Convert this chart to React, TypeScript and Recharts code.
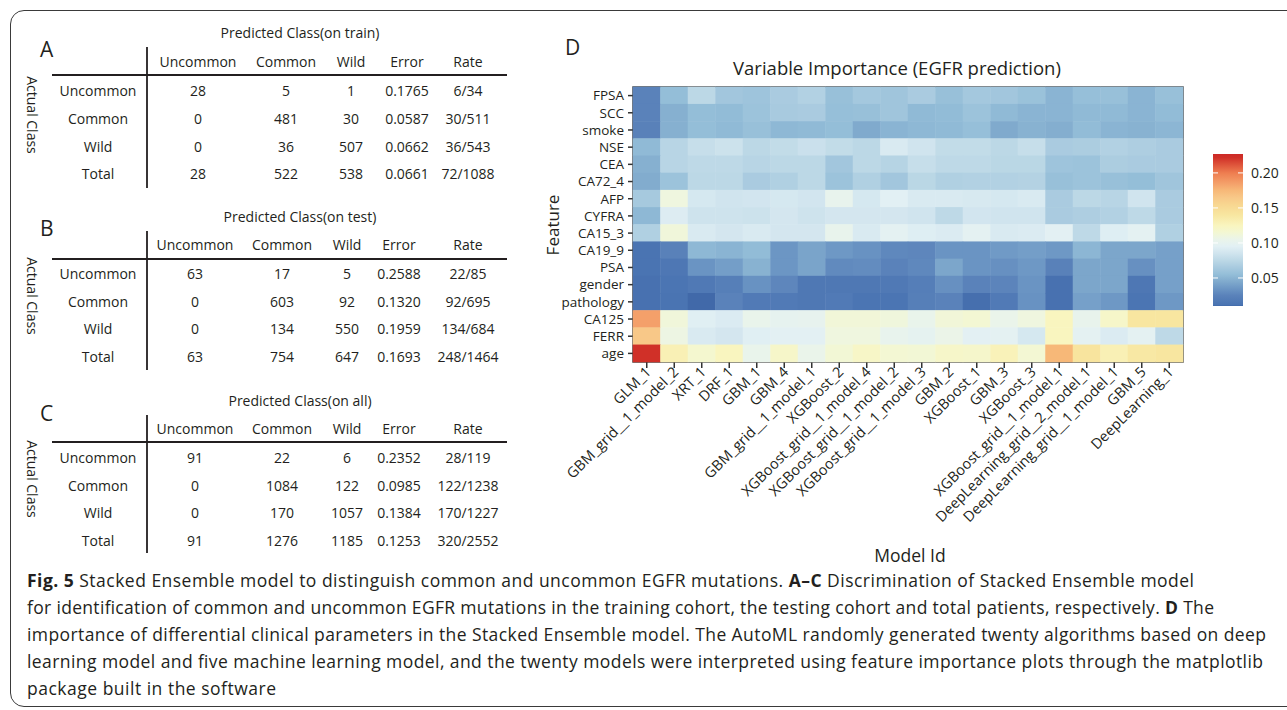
import React from "react";
import {
  ScatterChart,
  Scatter,
  XAxis,
  YAxis,
  ReferenceArea,
  BarChart,
  Bar,
} from "recharts";

// ---- heatmap data (panel D) ----
const MODELS = [
  "GLM_1",
  "GBM_grid__1_model_2",
  "XRT_1",
  "DRF_1",
  "GBM_1",
  "GBM_4",
  "GBM_grid__1_model_1",
  "XGBoost_2",
  "XGBoost_grid__1_model_4",
  "XGBoost_grid__1_model_2",
  "XGBoost_grid__1_model_3",
  "GBM_2",
  "XGBoost_1",
  "GBM_3",
  "XGBoost_3",
  "XGBoost_grid__1_model_1",
  "DeepLearning_grid__2_model_1",
  "DeepLearning_grid__1_model_1",
  "GBM_5",
  "DeepLearning_1",
];

const FEATURES = [
  "FPSA", "SCC", "smoke", "NSE", "CEA", "CA72_4", "AFP", "CYFRA",
  "CA15_3", "CA19_9", "PSA", "gender", "pathology", "CA125", "FERR", "age",
];

const FPSA = [0.025, 0.055, 0.075, 0.062, 0.06, 0.066, 0.07, 0.057, 0.063, 0.061, 0.066, 0.057, 0.063, 0.062, 0.058, 0.05, 0.056, 0.057, 0.05, 0.057];
const SCC = [0.025, 0.048, 0.055, 0.054, 0.059, 0.065, 0.066, 0.056, 0.057, 0.061, 0.053, 0.054, 0.059, 0.053, 0.05, 0.05, 0.053, 0.053, 0.05, 0.054];
const SMOKE = [0.024, 0.048, 0.055, 0.053, 0.057, 0.052, 0.053, 0.055, 0.045, 0.05, 0.052, 0.053, 0.056, 0.045, 0.049, 0.047, 0.054, 0.05, 0.049, 0.051];
const NSE = [0.053, 0.073, 0.08, 0.083, 0.075, 0.078, 0.082, 0.078, 0.075, 0.09, 0.085, 0.078, 0.078, 0.075, 0.08, 0.066, 0.067, 0.07, 0.068, 0.066];
const CEA = [0.048, 0.073, 0.076, 0.076, 0.073, 0.075, 0.075, 0.062, 0.075, 0.072, 0.08, 0.076, 0.076, 0.074, 0.074, 0.06, 0.059, 0.067, 0.066, 0.066];
const CA72_4 = [0.046, 0.059, 0.075, 0.075, 0.066, 0.069, 0.075, 0.059, 0.069, 0.062, 0.074, 0.069, 0.07, 0.07, 0.071, 0.057, 0.059, 0.057, 0.055, 0.061];
const AFP = [0.064, 0.11, 0.088, 0.085, 0.086, 0.088, 0.086, 0.102, 0.088, 0.095, 0.09, 0.09, 0.089, 0.088, 0.09, 0.066, 0.075, 0.073, 0.085, 0.066];
const CYFRA = [0.052, 0.092, 0.084, 0.084, 0.083, 0.087, 0.084, 0.087, 0.087, 0.087, 0.085, 0.076, 0.086, 0.085, 0.085, 0.066, 0.068, 0.07, 0.076, 0.066];
const CA15_3 = [0.069, 0.112, 0.09, 0.087, 0.09, 0.087, 0.087, 0.103, 0.09, 0.097, 0.093, 0.091, 0.097, 0.09, 0.091, 0.096, 0.076, 0.093, 0.097, 0.069];
const CA19_9 = [0.012, 0.024, 0.052, 0.05, 0.054, 0.035, 0.042, 0.036, 0.033, 0.028, 0.027, 0.034, 0.034, 0.037, 0.039, 0.036, 0.051, 0.043, 0.043, 0.04];
const PSA = [0.012, 0.015, 0.034, 0.039, 0.049, 0.035, 0.042, 0.029, 0.03, 0.025, 0.028, 0.043, 0.034, 0.032, 0.036, 0.024, 0.043, 0.043, 0.032, 0.04];
const GENDER = [0.011, 0.013, 0.017, 0.022, 0.033, 0.027, 0.016, 0.016, 0.016, 0.017, 0.021, 0.032, 0.025, 0.026, 0.034, 0.011, 0.043, 0.043, 0.015, 0.04];
const PATHOLOGY = [0.011, 0.012, 0.008, 0.025, 0.018, 0.018, 0.016, 0.018, 0.013, 0.013, 0.022, 0.025, 0.01, 0.018, 0.033, 0.011, 0.04, 0.036, 0.013, 0.036];
const CA125 = [0.185, 0.112, 0.094, 0.091, 0.104, 0.1, 0.101, 0.113, 0.113, 0.111, 0.104, 0.113, 0.115, 0.105, 0.11, 0.125, 0.103, 0.12, 0.14, 0.14];
const FERR = [0.165, 0.108, 0.09, 0.087, 0.094, 0.096, 0.096, 0.11, 0.11, 0.102, 0.099, 0.106, 0.096, 0.097, 0.088, 0.125, 0.097, 0.091, 0.097, 0.076];
const AGE = [0.222, 0.13, 0.117, 0.125, 0.104, 0.12, 0.105, 0.114, 0.121, 0.115, 0.114, 0.12, 0.119, 0.128, 0.115, 0.175, 0.142, 0.13, 0.138, 0.14];

const IMPORTANCE = [
  FPSA, SCC, SMOKE, NSE, CEA, CA72_4, AFP, CYFRA,
  CA15_3, CA19_9, PSA, GENDER, PATHOLOGY, CA125, FERR, AGE,
];

const SCALE_MIN = 0.01;
const SCALE_MAX = 0.227;
const COLORBAR_TICKS = [0.05, 0.1, 0.15, 0.2];

// ---- confusion tables (panels A-C) ----
const CLASS_COLUMNS = ["Uncommon", "Common", "Wild", "Error", "Rate"];
const CLASS_ROWS = ["Uncommon", "Common", "Wild", "Total"];

const TRAIN_VALUES = [
  ["28", "5", "1", "0.1765", "6/34"],
  ["0", "481", "30", "0.0587", "30/511"],
  ["0", "36", "507", "0.0662", "36/543"],
  ["28", "522", "538", "0.0661", "72/1088"],
];
const TEST_VALUES = [
  ["63", "17", "5", "0.2588", "22/85"],
  ["0", "603", "92", "0.1320", "92/695"],
  ["0", "134", "550", "0.1959", "134/684"],
  ["63", "754", "647", "0.1693", "248/1464"],
];
const ALL_VALUES = [
  ["91", "22", "6", "0.2352", "28/119"],
  ["0", "1084", "122", "0.0985", "122/1238"],
  ["0", "170", "1057", "0.1384", "170/1227"],
  ["91", "1276", "1185", "0.1253", "320/2552"],
];

// ---- styles ----
const FONT = "'Open Sans', sans-serif";
const INK = "#231f20";
const CELL_W = 550 / 20;
const CELL_H = 275 / 16;

const COLOR_STOPS: [number, string][] = [
  [0.008, "#4169a9"],
  [0.012, "#4a74b2"],
  [0.025, "#5a82ba"],
  [0.035, "#6c96c4"],
  [0.045, "#80aacd"],
  [0.055, "#94bed8"],
  [0.065, "#a8cadf"],
  [0.075, "#bcd8e6"],
  [0.085, "#d0e4ee"],
  [0.095, "#e2f0f4"],
  [0.105, "#eaf4ea"],
  [0.115, "#f3f7d3"],
  [0.125, "#f9f5bf"],
  [0.14, "#f8e6a0"],
  [0.155, "#f8d690"],
  [0.165, "#f8c888"],
  [0.175, "#f7b878"],
  [0.185, "#f4a06a"],
  [0.2, "#ee7d50"],
  [0.222, "#d03028"],
  [0.227, "#cc2a26"],
];

function hexToRgb(h: string) {
  const n = parseInt(h.slice(1), 16);
  return [(n >> 16) & 255, (n >> 8) & 255, n & 255];
}

function colorFor(v: number) {
  if (v <= COLOR_STOPS[0][0]) return COLOR_STOPS[0][1];
  for (let i = 1; i < COLOR_STOPS.length; i++) {
    const [v1, c1] = COLOR_STOPS[i];
    if (v <= v1) {
      const [v0, c0] = COLOR_STOPS[i - 1];
      const t = (v - v0) / (v1 - v0);
      const a = hexToRgb(c0);
      const b = hexToRgb(c1);
      const rgb = a.map((x, k) => Math.round(x + (b[k] - x) * t));
      return `rgb(${rgb[0]},${rgb[1]},${rgb[2]})`;
    }
  }
  return COLOR_STOPS[COLOR_STOPS.length - 1][1];
}

const cells = IMPORTANCE.flatMap((row, r) =>
  row.map((v, c) => ({
    col: c + 0.5,
    row: FEATURES.length - r - 0.5,
    v,
    model: MODELS[c],
    feature: FEATURES[r],
  }))
);

const colorbarData = [{ name: "scale", range: [SCALE_MIN, SCALE_MAX] }];

const CellShape = (props: any) => {
  const { cx, cy, payload } = props;
  return (
    <rect
      x={cx - CELL_W / 2 - 0.25}
      y={cy - CELL_H / 2 - 0.25}
      width={CELL_W + 0.5}
      height={CELL_H + 0.5}
      fill={colorFor(payload.v)}
    />
  );
};

const ModelTick = (props: any) => {
  const { x, y, payload } = props;
  const ax = x + 5;
  const ay = y + 3;
  return (
    <text
      x={ax}
      y={ay}
      transform={`rotate(-45, ${ax}, ${ay})`}
      textAnchor="end"
      fontSize={14.5}
      fill={INK}
      fontFamily={FONT}
    >
      {MODELS[Math.floor(payload.value)]}
    </text>
  );
};

// bar occupies x 8..38 inside the colorbar chart
const ColorbarTick = (props: any) => {
  const { x, y, payload } = props;
  return (
    <g>
      <line x1={8} x2={13} y1={y} y2={y} stroke="#fff" strokeWidth={1} />
      <line x1={33} x2={38} y1={y} y2={y} stroke="#fff" strokeWidth={1} />
      <text x={x} y={y} dy={5} fontSize={14} fill={INK} fontFamily={FONT}>
        {payload.value.toFixed(2)}
      </text>
    </g>
  );
};

type TableLayout = {
  letter: string;
  title: string;
  values: string[][];
  letterY: number;
  titleY: number;
  headerY: number;
  hLineY: number;
  vLine: [number, number];
  rowsY: number[];
  cols: number[];
  sideY: number;
};

const TABLES: TableLayout[] = [
  {
    letter: "A",
    title: "Predicted Class(on train)",
    values: TRAIN_VALUES,
    letterY: 57,
    titleY: 33,
    headerY: 62,
    hLineY: 75,
    vLine: [47, 188],
    rowsY: [91, 119, 147, 174],
    cols: [198, 286, 351, 407, 468],
    sideY: 115,
  },
  {
    letter: "B",
    title: "Predicted Class(on test)",
    values: TEST_VALUES,
    letterY: 236,
    titleY: 217,
    headerY: 245,
    hLineY: 259,
    vLine: [231, 370],
    rowsY: [274, 302, 329, 357],
    cols: [195, 282, 347, 399, 468],
    sideY: 296,
  },
  {
    letter: "C",
    title: "Predicted Class(on all)",
    values: ALL_VALUES,
    letterY: 421,
    titleY: 401,
    headerY: 429,
    hLineY: 442,
    vLine: [415, 553],
    rowsY: [458, 486, 513, 541],
    cols: [195, 282, 347, 399, 468],
    sideY: 479,
  },
];

function ConfusionTable({ t }: { t: TableLayout }) {
  const txt = { fontFamily: FONT, fontSize: 14, fill: INK };
  return (
    <g>
      <text x={40} y={t.letterY} fontFamily={FONT} fontSize={21} fill={INK}>
        {t.letter}
      </text>
      <text x={300} y={t.titleY + 5} textAnchor="middle" {...txt}>
        {t.title}
      </text>
      {CLASS_COLUMNS.map((c, i) => (
        <text key={c} x={t.cols[i]} y={t.headerY + 5} textAnchor="middle" {...txt}>
          {c}
        </text>
      ))}
      <line x1={52} x2={507} y1={t.hLineY} y2={t.hLineY} stroke={INK} strokeWidth={1.8} />
      <line x1={147} x2={147} y1={t.vLine[0]} y2={t.vLine[1]} stroke={INK} strokeWidth={1.8} />
      {CLASS_ROWS.map((r, ri) => (
        <g key={r}>
          <text x={98} y={t.rowsY[ri] + 5} textAnchor="middle" {...txt}>
            {r}
          </text>
          {t.values[ri].map((v, ci) => (
            <text key={ci} x={t.cols[ci]} y={t.rowsY[ri] + 5} textAnchor="middle" {...txt}>
              {v}
            </text>
          ))}
        </g>
      ))}
      <text
        x={27}
        y={t.sideY}
        transform={`rotate(90, 27, ${t.sideY})`}
        textAnchor="middle"
        {...txt}
      >
        Actual Class
      </text>
    </g>
  );
}

function Caption() {
  const base = { fontFamily: FONT, fontSize: 17.5, fill: INK };
  return (
    <g>
      <text x={27} y={587} textLength={1167} lengthAdjust="spacing" {...base}>
        <tspan fontWeight="bold">Fig. 5</tspan>
        <tspan>{"  Stacked Ensemble model to distinguish common and uncommon EGFR mutations. "}</tspan>
        <tspan fontWeight="bold">A–C</tspan>
        <tspan> Discrimination of Stacked Ensemble model</tspan>
      </text>
      <text x={27} y={614} textLength={1187} lengthAdjust="spacing" {...base}>
        <tspan>
          {"for identification of common and uncommon EGFR mutations in the training cohort, the testing cohort and total patients, respectively. "}
        </tspan>
        <tspan fontWeight="bold">D</tspan>
        <tspan> The</tspan>
      </text>
      <text x={27} y={641} textLength={1239} lengthAdjust="spacing" {...base}>
        importance of differential clinical parameters in the Stacked Ensemble model. The AutoML randomly generated twenty algorithms based on deep
      </text>
      <text x={27} y={668} textLength={1236} lengthAdjust="spacing" {...base}>
        learning model and five machine learning model, and the twenty models were interpreted using feature importance plots through the matplotlib
      </text>
      <text x={27} y={695} textLength={249} lengthAdjust="spacing" {...base}>
        package built in the software
      </text>
    </g>
  );
}

export default function App() {
  return (
    <div
      style={{
        position: "fixed",
        left: 0,
        top: 0,
        width: 1287,
        height: 710,
        overflow: "hidden",
        background: "#fff",
      }}
    >
      <div
        style={{
          position: "absolute",
          left: 10,
          top: 10,
          width: 1320,
          height: 697,
          border: "1px solid #3a3a3a",
          borderRadius: 14,
          boxSizing: "border-box",
        }}
      />
      <svg
        width={1287}
        height={710}
        style={{ position: "absolute", left: 0, top: 0 }}
      >
        {TABLES.map((t) => (
          <ConfusionTable key={t.letter} t={t} />
        ))}
        <text x={565} y={55} fontFamily={FONT} fontSize={21} fill={INK}>
          D
        </text>
        <text x={897} y={75} textAnchor="middle" fontFamily={FONT} fontSize={18.5} fill={INK}>
          Variable Importance (EGFR prediction)
        </text>
        <text
          x={553}
          y={225}
          transform="rotate(-90, 553, 225)"
          textAnchor="middle"
          dy={6}
          fontFamily={FONT}
          fontSize={17}
          fill={INK}
        >
          Feature
        </text>
        <text x={910} y={562} textAnchor="middle" fontFamily={FONT} fontSize={17.5} fill={INK}>
          Model Id
        </text>
        <Caption />
      </svg>

      <div style={{ position: "absolute", left: 545, top: 0 }}>
        <ScatterChart
          width={742}
          height={560}
          margin={{ top: 87, right: 104, bottom: 0, left: 0 }}
        >
          <XAxis
            type="number"
            dataKey="col"
            domain={[0, MODELS.length]}
            ticks={MODELS.map((_, i) => i + 0.5)}
            interval={0}
            height={198}
            axisLine={false}
            tickSize={6}
            tickLine={{ stroke: "#333", strokeWidth: 1.5 }}
            tick={<ModelTick />}
          />
          <YAxis
            type="number"
            dataKey="row"
            domain={[0, FEATURES.length]}
            ticks={FEATURES.map((_, i) => i + 0.5)}
            interval={0}
            width={88}
            axisLine={false}
            tickSize={5}
            tickMargin={4}
            tickLine={{ stroke: "#333", strokeWidth: 1.5 }}
            tickFormatter={(v: number) => FEATURES[FEATURES.length - 1 - Math.floor(v)]}
            tick={{ fontSize: 13.5, fill: INK, fontFamily: FONT }}
          />
          <Scatter data={cells} shape={<CellShape />} isAnimationActive={false} />
          <ReferenceArea
            x1={0}
            x2={MODELS.length}
            y1={0}
            y2={FEATURES.length}
            fill="none"
            fillOpacity={0}
            stroke="#4a4a4a"
            strokeWidth={1.5}
            ifOverflow="visible"
          />
        </ScatterChart>
      </div>

      <div style={{ position: "absolute", left: 1205, top: 140 }}>
        <BarChart
          width={82}
          height={180}
          data={colorbarData}
          margin={{ top: 14, right: 0, left: 8, bottom: 14 }}
          barCategoryGap={0}
        >
          <defs>
            <linearGradient id="rdylbu" x1="0" y1="1" x2="0" y2="0">
              {COLOR_STOPS.map(([v, c]) => (
                <stop
                  key={v}
                  offset={`${Math.max(0, ((v - SCALE_MIN) / (SCALE_MAX - SCALE_MIN)) * 100)}%`}
                  stopColor={c}
                />
              ))}
            </linearGradient>
          </defs>
          <XAxis dataKey="name" hide />
          <YAxis
            orientation="right"
            domain={[SCALE_MIN, SCALE_MAX]}
            ticks={COLORBAR_TICKS}
            interval={0}
            width={44}
            axisLine={false}
            tickLine={false}
            tick={<ColorbarTick />}
          />
          <Bar dataKey="range" fill="url(#rdylbu)" isAnimationActive={false} />
        </BarChart>
      </div>
    </div>
  );
}
